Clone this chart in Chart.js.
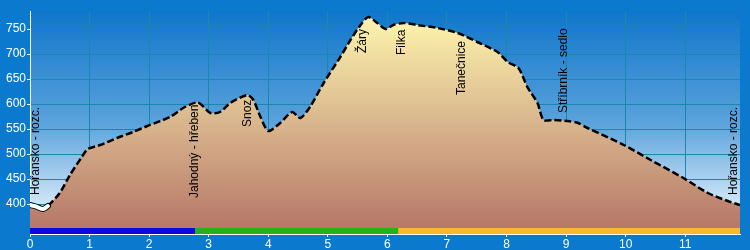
<!DOCTYPE html>
<html>
<head>
<meta charset="utf-8">
<script src="https://cdn.jsdelivr.net/npm/chart.js@4.4.0/dist/chart.umd.min.js"></script>
<style>
  body { margin: 0; background: #0b79cd; }
  canvas { display: block; }
</style>
</head>
<body>
<canvas id="profile" width="750" height="250"></canvas>
<script>
// vzdálenost (km) a nadmořská výška (m)
var km = [0, 0.1, 0.22, 0.3, 0.5, 0.67, 0.87, 0.97, 1.18, 1.46, 1.73, 1.97, 2.35, 2.6, 2.82,
  3.03, 3.19, 3.36, 3.65, 3.75, 3.87, 4.0, 4.2, 4.4, 4.54, 4.7, 4.93, 5.21, 5.38, 5.55,
  5.68, 5.83, 5.97, 6.1, 6.27, 6.5, 6.84, 7.18, 7.51, 7.85, 8.02, 8.2, 8.35, 8.52, 8.62,
  8.79, 9.03, 9.2, 9.36, 9.97, 10.42, 10.97, 11.38, 11.76, 11.92];
var elev = [398, 395, 390, 396, 422, 458, 494, 510, 518, 532, 544, 556, 574, 594, 603,
  582, 584, 602, 618, 608, 574, 546, 562, 584, 572, 594, 642, 694, 728, 758,
  774, 762, 750, 758, 762, 758, 752, 742, 724, 704, 684, 672, 634, 602, 568,
  568, 566, 562, 552, 518, 488, 452, 422, 404, 398];

// body na trase
var pointNames = ['Hořansko - rozc.', 'Jahodný - hřeben', 'Snoz', 'Žáry', 'Filka', 'Tanečnice', 'Stříbrník - sedlo', 'Hořansko - rozc.'];
var pointKm = [0.1, 2.77, 3.65, 5.58, 6.24, 7.24, 8.96, 11.82];
var pointLabelAlt = [418, 412, 554, 702, 698, 618, 582, 418];

// barevné úseky trasy
var sectionStart = [0, 2.77, 6.18];
var sectionEnd = [2.77, 6.18, 11.92];
var sectionColors = ['#0a0ae0', '#22b21c', '#f9b82e'];

var xTicks = [0, 1, 2, 3, 4, 5, 6, 7, 8, 9, 10, 11];
var yTicks = [400, 450, 500, 550, 600, 650, 700, 750];

var profileData = km.map(function (k, i) { return { x: k, y: elev[i] }; });
var startData = profileData.slice(0, 4);

// pozn.: dataset s nižším indexem se kreslí navrch
var datasets = [];
sectionColors.forEach(function (color, i) {
  datasets.push({
    data: [{ x: sectionStart[i], y: 346 }, { x: sectionEnd[i], y: 346 }],
    borderColor: color,
    borderWidth: 6,
    borderCapStyle: 'butt',
    pointRadius: 0,
    fill: false
  });
});
datasets.push({
  data: startData,
  borderColor: '#ffffff',
  borderWidth: 4,
  borderCapStyle: 'round',
  pointRadius: 0,
  tension: 0.3,
  fill: false
});
datasets.push({
  data: startData,
  borderColor: '#000000',
  borderWidth: 6,
  borderCapStyle: 'round',
  pointRadius: 0,
  tension: 0.3,
  fill: false
});
datasets.push({
  data: profileData,
  borderColor: '#000000',
  borderWidth: 2.5,
  borderDash: [7, 3],
  pointRadius: 0,
  tension: 0.25,
  fill: 'start',
  backgroundColor: function (context) {
    var area = context.chart.chartArea;
    if (!area) return '#d9b58c';
    var g = context.chart.ctx.createLinearGradient(0, area.top, 0, area.bottom);
    g.addColorStop(0, '#fcf5b8');
    g.addColorStop(0.1, '#f8eba8');
    g.addColorStop(0.5, '#d9b68d');
    g.addColorStop(1, '#b47466');
    return g;
  }
});

var backgroundPlugin = {
  id: 'pozadi',
  beforeDraw: function (chart) {
    var c = chart.ctx, a = chart.chartArea;
    c.save();
    c.fillStyle = '#0b79cd';
    c.fillRect(0, 0, chart.width, chart.height);
    var g = c.createLinearGradient(0, a.top, 0, a.bottom);
    g.addColorStop(0, '#0f76ca');
    g.addColorStop(0.5, '#5aa2dc');
    g.addColorStop(0.9, '#dcecf9');
    g.addColorStop(1, '#eef6fc');
    c.fillStyle = g;
    c.fillRect(a.left, a.top, a.right - a.left, a.bottom - a.top);
    c.restore();
  }
};

var labelsPlugin = {
  id: 'popisky',
  afterDatasetsDraw: function (chart) {
    var c = chart.ctx;
    var xs = chart.scales.x, ys = chart.scales.y;
    c.save();
    c.fillStyle = '#000000';
    c.font = '12px "Liberation Sans", Arial, sans-serif';
    c.textAlign = 'left';
    c.textBaseline = 'middle';
    pointNames.forEach(function (name, i) {
      c.save();
      c.translate(xs.getPixelForValue(pointKm[i]), ys.getPixelForValue(pointLabelAlt[i]));
      c.rotate(-Math.PI / 2);
      c.fillText(name, 0, 0);
      c.restore();
    });
    c.restore();
  }
};

var chart = new Chart(document.getElementById('profile').getContext('2d'), {
  type: 'line',
  data: { datasets: datasets },
  options: {
    responsive: false,
    animation: false,
    layout: { padding: { top: 11, right: 10, left: 0, bottom: 0 } },
    plugins: { legend: { display: false }, tooltip: { enabled: false } },
    scales: {
      x: {
        type: 'linear',
        min: 0,
        max: 11.92,
        afterBuildTicks: function (axis) {
          axis.ticks = xTicks.map(function (v) { return { value: v }; });
        },
        afterFit: function (axis) { axis.height = 16; },
        grid: { color: '#1889aa', lineWidth: 1, tickColor: '#ffffff', tickLength: 3 },
        border: { color: '#ffffff', width: 1 },
        ticks: {
          color: '#ffffff',
          padding: 0,
          maxRotation: 0,
          font: { family: '"Liberation Sans", Arial, sans-serif', size: 12 }
        }
      },
      y: {
        min: 340,
        max: 786,
        afterBuildTicks: function (axis) {
          axis.ticks = yTicks.map(function (v) { return { value: v }; });
        },
        afterFit: function (axis) { axis.width = 30; },
        grid: { color: '#1889aa', lineWidth: 1, tickColor: '#ffffff', tickLength: 3 },
        border: { color: '#ffffff', width: 1 },
        ticks: {
          color: '#ffffff',
          padding: 1,
          font: { family: '"Liberation Sans", Arial, sans-serif', size: 12 }
        }
      }
    }
  },
  plugins: [backgroundPlugin, labelsPlugin]
});
</script>
</body>
</html>
